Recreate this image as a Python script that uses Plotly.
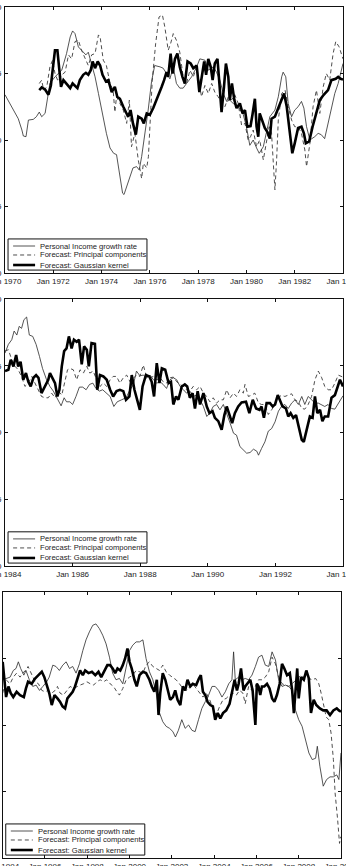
import plotly.graph_objects as go

# ---------------- data (decimal years, growth rate %) ----------------
p1_act_t = [1970.0,1970.35,1970.55,1970.7,1970.76,1970.87,1970.97,1971.17,1971.3,1971.42,1971.52,1971.66,1971.73,1971.86,1972.07,1972.35,1972.55,1972.7,1972.8,1972.9,1973.04,1973.17,1973.35,1973.45,1973.59,1973.73,1973.87,1974.0,1974.2,1974.35,1974.5,1974.62,1974.76,1974.87,1974.93,1975.04,1975.17,1975.3,1975.45,1975.56,1975.66,1975.8,1975.93,1976.07,1976.2,1976.42,1976.55,1976.69,1976.83,1976.97,1977.1,1977.24,1977.38,1977.52,1977.73,1977.94,1978.07,1978.28,1978.42,1978.63,1978.76,1978.9,1979.04,1979.18,1979.31,1979.45,1979.66,1979.87,1980.0,1980.14,1980.28,1980.42,1980.53,1980.7,1980.83,1980.97,1981.18,1981.32,1981.46,1981.52,1981.63,1981.73,1981.87,1982.0,1982.14,1982.28,1982.38,1982.49,1982.63,1982.83,1982.97,1983.1,1983.24,1983.38,1983.52,1983.66,1983.8,1984.0]
p1_act_v = [3.4,2.25,1.6,0.75,0.3,0.25,1.5,1.55,1.75,2.1,1.75,2.0,2.75,4.25,4.75,5.25,6.5,7.75,8.2,8.0,7.0,6.75,6.4,6.6,5.75,4.75,3.5,2.25,0.5,-0.6,-1.0,-1.1,-2.75,-4.0,-4.1,-3.5,-2.75,-2.1,-2.0,-2.25,-1.25,0.5,2.25,4.4,5.6,5.5,5.4,5.0,4.6,5.5,4.25,3.9,3.9,4.25,4.75,5.5,6.1,6.0,5.25,5.5,5.1,4.5,3.5,2.9,3.0,2.75,2.5,1.9,1.0,-0.4,0.0,-0.6,-1.0,-0.5,0.5,1.75,2.25,3.25,4.75,5.1,4.75,2.75,1.75,2.25,2.5,2.9,2.4,1.0,0.0,0.25,0.5,0.4,0.1,1.25,2.5,3.5,4.25,5.75]

p1_pc_t = [1971.42,1971.52,1971.6,1971.73,1971.86,1971.97,1972.07,1972.2,1972.35,1972.49,1972.63,1972.76,1972.9,1973.04,1973.17,1973.31,1973.45,1973.59,1973.73,1973.87,1973.94,1974.07,1974.2,1974.35,1974.48,1974.55,1974.62,1974.76,1974.9,1975.04,1975.15,1975.24,1975.38,1975.52,1975.66,1975.73,1975.87,1975.94,1976.0,1976.1,1976.24,1976.38,1976.52,1976.62,1976.76,1976.86,1976.97,1977.1,1977.24,1977.38,1977.52,1977.66,1977.8,1977.94,1978.07,1978.14,1978.28,1978.42,1978.56,1978.69,1978.83,1978.97,1979.11,1979.25,1979.38,1979.52,1979.66,1979.8,1979.94,1980.07,1980.17,1980.28,1980.42,1980.55,1980.7,1980.8,1980.94,1981.04,1981.1,1981.18,1981.25,1981.32,1981.46,1981.6,1981.73,1981.87,1982.0,1982.14,1982.28,1982.42,1982.49,1982.63,1982.76,1982.9,1983.04,1983.18,1983.31,1983.45,1983.59,1983.7,1983.84,1984.0]
p1_pc_v = [4.25,4.5,3.75,4.0,5.5,6.0,5.0,4.4,4.9,5.1,6.4,6.1,7.4,7.5,6.75,6.1,5.6,6.4,6.5,7.9,7.75,6.0,5.6,4.25,3.75,2.1,3.25,2.75,2.25,1.25,3.0,-0.5,0.5,-1.5,-2.9,-1.75,-2.1,-1.25,1.0,4.5,7.25,9.25,9.4,8.5,6.75,7.25,8.0,7.5,6.6,4.75,4.25,5.25,4.75,5.5,4.0,3.25,4.1,3.5,4.25,3.6,3.25,2.75,2.5,3.25,3.0,3.4,2.75,1.1,1.25,0.0,0.25,0.75,-0.5,0.0,-1.5,-0.5,1.0,0.5,-1.25,-3.75,-1.5,1.5,3.5,3.75,2.5,1.5,1.0,1.0,0.5,-0.75,-2.0,-0.25,2.5,3.75,2.0,4.0,5.0,4.5,6.5,7.4,7.0,6.1]

p1_gk_t = [1971.42,1971.52,1971.66,1971.8,1971.9,1972.0,1972.07,1972.17,1972.25,1972.32,1972.42,1972.55,1972.7,1972.8,1972.9,1973.0,1973.1,1973.24,1973.35,1973.45,1973.55,1973.63,1973.73,1973.84,1973.94,1974.04,1974.18,1974.28,1974.42,1974.55,1974.65,1974.76,1974.9,1975.0,1975.1,1975.2,1975.3,1975.42,1975.52,1975.66,1975.75,1975.87,1976.0,1976.14,1976.28,1976.38,1976.49,1976.59,1976.69,1976.76,1976.86,1976.94,1977.04,1977.14,1977.24,1977.35,1977.45,1977.56,1977.69,1977.8,1977.94,1978.05,1978.14,1978.25,1978.33,1978.42,1978.52,1978.6,1978.69,1978.8,1978.88,1978.97,1979.07,1979.15,1979.25,1979.31,1979.4,1979.5,1979.59,1979.73,1979.84,1979.94,1980.04,1980.17,1980.25,1980.35,1980.42,1980.49,1980.55,1980.66,1980.76,1980.87,1980.97,1981.04,1981.18,1981.32,1981.46,1981.56,1981.67,1981.78,1981.9,1982.0,1982.14,1982.28,1982.38,1982.46,1982.6,1982.74,1982.87,1983.04,1983.2,1983.38,1983.52,1983.7,1983.8,1983.9,1984.0]
p1_gk_v = [3.75,3.95,3.8,3.4,4.1,5.6,6.75,6.75,5.5,4.0,4.5,4.25,3.9,4.25,4.1,3.9,4.5,4.9,5.05,4.9,5.25,5.9,5.4,5.9,5.6,4.9,4.4,4.5,3.6,4.0,3.25,3.1,2.5,2.1,1.75,2.25,1.25,0.4,1.75,1.6,1.25,2.0,1.9,2.4,3.0,3.5,4.0,4.5,5.1,4.75,6.5,5.0,6.1,6.5,5.5,4.75,4.25,5.9,5.75,5.4,5.6,3.6,4.75,5.9,4.9,6.1,5.5,4.5,5.75,6.1,4.25,2.1,4.0,5.75,4.75,3.0,4.25,3.0,2.4,2.75,2.0,2.25,1.0,1.05,1.9,3.1,1.0,0.25,2.0,1.5,0.9,0.6,0.1,1.6,1.75,2.4,3.0,3.5,2.5,0.75,-1.0,-0.25,0.9,1.0,0.5,-0.25,-0.1,1.0,1.9,3.0,3.4,3.75,4.5,4.6,4.75,4.6,4.55]

p2_act_t = [1984.0,1984.1,1984.2,1984.27,1984.35,1984.42,1984.49,1984.56,1984.64,1984.72,1984.82,1984.92,1985.02,1985.11,1985.23,1985.33,1985.43,1985.53,1985.66,1985.75,1985.82,1985.92,1986.0,1986.1,1986.2,1986.3,1986.4,1986.5,1986.6,1986.69,1986.79,1986.89,1986.99,1987.11,1987.22,1987.32,1987.45,1987.58,1987.7,1987.8,1987.89,1987.99,1988.09,1988.19,1988.29,1988.39,1988.49,1988.59,1988.68,1988.78,1988.88,1988.98,1989.08,1989.18,1989.28,1989.37,1989.47,1989.57,1989.67,1989.77,1989.87,1989.97,1990.06,1990.16,1990.26,1990.36,1990.46,1990.56,1990.66,1990.76,1990.85,1990.95,1991.05,1991.15,1991.25,1991.35,1991.45,1991.5,1991.59,1991.69,1991.79,1991.89,1991.99,1992.09,1992.18,1992.28,1992.38,1992.48,1992.58,1992.68,1992.78,1992.87,1992.97,1993.07,1993.17,1993.27,1993.37,1993.46,1993.56,1993.66,1993.76,1993.86,1994.0]
p2_act_v = [5.95,6.6,6.95,7.6,7.3,7.95,7.8,8.45,8.65,7.3,7.2,6.6,5.7,4.8,3.95,3.45,3.1,2.6,2.0,2.6,2.3,2.3,2.1,2.7,3.4,3.4,3.2,3.6,3.7,3.3,3.1,3.2,2.95,2.7,1.95,2.3,2.45,2.6,3.2,3.6,4.6,4.25,4.3,4.1,4.3,3.95,3.7,3.8,3.6,3.3,3.95,4.1,3.95,3.45,3.2,2.95,3.1,2.7,2.8,2.45,1.95,1.2,1.45,1.95,2.1,1.7,2.1,1.45,0.7,-0.05,-0.2,-1.05,-1.3,-1.55,-1.5,-1.25,-1.4,-1.7,-1.2,-0.7,0.1,0.3,0.8,1.6,1.95,2.1,1.8,2.2,2.45,2.1,2.7,2.1,2.7,2.45,2.2,2.2,2.1,1.95,2.1,1.8,1.75,2.2,2.75]

p2_pc_t = [1984.0,1984.1,1984.2,1984.3,1984.39,1984.49,1984.59,1984.69,1984.79,1984.89,1984.99,1985.08,1985.18,1985.28,1985.38,1985.48,1985.58,1985.68,1985.77,1985.85,1985.92,1986.02,1986.12,1986.22,1986.32,1986.42,1986.51,1986.61,1986.71,1986.81,1986.91,1987.01,1987.11,1987.2,1987.3,1987.4,1987.5,1987.6,1987.7,1987.8,1987.89,1987.99,1988.09,1988.19,1988.29,1988.39,1988.49,1988.59,1988.68,1988.78,1988.88,1988.98,1989.08,1989.18,1989.28,1989.37,1989.47,1989.57,1989.67,1989.77,1989.87,1989.97,1990.06,1990.16,1990.26,1990.36,1990.46,1990.56,1990.66,1990.76,1990.85,1990.95,1991.05,1991.1,1991.2,1991.3,1991.39,1991.5,1991.59,1991.69,1991.79,1991.89,1991.99,1992.09,1992.18,1992.28,1992.38,1992.48,1992.58,1992.68,1992.78,1992.87,1992.97,1993.07,1993.17,1993.27,1993.37,1993.46,1993.56,1993.66,1993.76,1993.86,1994.0]
p2_pc_v = [6.1,6.2,5.45,4.95,4.7,4.2,3.45,3.7,4.2,3.7,3.2,2.7,2.6,2.6,2.95,2.6,3.1,2.8,3.8,4.7,4.8,4.7,3.95,4.7,4.45,4.95,4.45,4.6,3.95,3.45,3.7,3.45,3.95,4.2,4.2,3.7,4.1,4.3,3.8,4.1,4.3,4.2,5.05,4.2,4.1,4.2,3.95,4.1,3.8,3.7,4.1,4.15,3.8,3.6,3.45,3.2,3.1,3.45,3.2,3.45,2.95,2.7,2.3,2.6,2.2,2.45,2.45,3.2,2.6,2.95,2.7,3.2,2.95,3.6,2.7,2.8,2.95,2.2,2.1,2.1,1.35,1.7,2.1,2.6,2.8,2.7,2.8,2.9,2.45,2.3,1.8,1.75,2.1,2.7,3.95,4.6,4.1,3.45,3.2,3.2,3.7,4.3,4.15]

p2_gk_t = [1984.0,1984.1,1984.17,1984.25,1984.33,1984.39,1984.46,1984.54,1984.62,1984.69,1984.76,1984.84,1984.92,1984.99,1985.08,1985.18,1985.28,1985.33,1985.41,1985.48,1985.55,1985.61,1985.68,1985.75,1985.82,1985.89,1985.97,1986.04,1986.12,1986.19,1986.27,1986.34,1986.42,1986.48,1986.56,1986.66,1986.73,1986.81,1986.91,1987.01,1987.11,1987.2,1987.3,1987.4,1987.5,1987.58,1987.68,1987.75,1987.83,1987.91,1987.99,1988.07,1988.17,1988.27,1988.34,1988.41,1988.49,1988.57,1988.64,1988.74,1988.84,1988.91,1988.98,1989.06,1989.13,1989.23,1989.32,1989.39,1989.47,1989.55,1989.62,1989.7,1989.77,1989.87,1989.97,1990.05,1990.14,1990.21,1990.31,1990.41,1990.49,1990.56,1990.64,1990.72,1990.8,1990.9,1991.0,1991.13,1991.23,1991.33,1991.43,1991.53,1991.59,1991.66,1991.74,1991.84,1991.92,1991.99,1992.07,1992.13,1992.21,1992.31,1992.38,1992.45,1992.53,1992.61,1992.68,1992.78,1992.84,1992.92,1993.02,1993.1,1993.17,1993.24,1993.32,1993.39,1993.46,1993.56,1993.66,1993.76,1993.83,1993.91,1994.0]
p2_gk_v = [4.6,4.7,5.45,4.95,5.8,4.95,5.3,3.95,4.45,3.8,3.45,4.1,4.3,4.1,2.95,3.45,3.95,4.45,4.1,3.7,2.7,3.2,4.95,6.1,6.3,7.2,6.3,6.95,6.8,6.95,5.1,6.45,6.2,4.95,6.7,6.65,3.2,4.3,4.2,3.95,3.2,2.7,3.1,3.2,3.1,2.45,2.7,4.3,3.2,2.45,1.7,3.45,4.3,4.2,3.8,2.7,5.2,3.7,4.8,4.7,3.7,3.8,2.1,2.7,2.45,3.45,3.6,3.45,2.6,2.95,1.8,3.1,2.1,2.95,1.95,1.45,1.6,1.1,0.85,0.2,1.3,1.95,1.3,0.7,1.45,1.95,2.25,2.3,1.45,2.45,1.8,1.7,1.95,1.1,2.2,2.2,1.95,2.1,2.8,2.45,1.95,1.8,1.2,1.45,1.1,1.3,0.6,-0.55,-0.7,0.2,1.2,1.1,2.7,1.45,1.7,0.85,1.2,1.2,2.6,2.8,3.3,3.95,3.45]

p3_act_t = [1994.0,1994.16,1994.35,1994.5,1994.63,1994.74,1994.85,1995.0,1995.1,1995.26,1995.42,1995.58,1995.74,1995.9,1996.08,1996.2,1996.37,1996.52,1996.68,1996.84,1997.0,1997.16,1997.31,1997.47,1997.63,1997.79,1997.94,1998.1,1998.26,1998.41,1998.57,1998.73,1998.89,1999.05,1999.2,1999.36,1999.52,1999.68,1999.84,2000.0,2000.15,2000.31,2000.47,2000.63,2000.78,2000.94,2001.1,2001.26,2001.42,2001.57,2001.73,2001.89,2002.05,2002.17,2002.31,2002.47,2002.63,2002.79,2002.95,2003.1,2003.26,2003.42,2003.58,2003.74,2003.9,2004.05,2004.21,2004.37,2004.53,2004.69,2004.84,2004.92,2005.0,2005.16,2005.32,2005.47,2005.63,2005.79,2005.95,2006.1,2006.26,2006.42,2006.58,2006.74,2006.9,2007.05,2007.21,2007.37,2007.53,2007.69,2007.85,2008.0,2008.16,2008.32,2008.48,2008.64,2008.8,2008.88,2009.0,2009.16,2009.32,2009.48,2009.64,2009.8,2009.9,2010.0]
p3_act_v = [3.4,3.5,3.6,4.1,4.25,4.75,4.25,3.75,4.1,3.4,2.9,3.0,2.6,2.9,3.25,3.6,4.5,4.4,4.1,4.5,4.75,4.25,4.4,3.9,4.6,5.6,6.4,7.0,7.5,7.6,7.25,6.75,6.1,5.1,3.9,3.4,3.5,3.1,4.25,5.6,6.0,6.25,6.25,6.4,5.0,4.0,3.4,2.4,0.9,0.25,-0.1,-0.25,-0.5,-0.9,-0.4,0.4,-0.25,0.0,-0.4,-0.5,0.4,1.25,1.75,2.25,2.9,2.9,2.6,2.1,2.5,3.1,3.4,5.5,3.4,3.6,3.4,3.5,3.4,3.75,4.4,5.1,5.25,4.5,4.4,5.5,4.9,3.4,2.9,3.0,2.9,2.6,1.1,0.4,-0.1,-1.1,-2.1,-2.6,-2.5,-1.6,-3.1,-4.6,-4.1,-3.9,-3.9,-3.75,-4.1,-2.1]

p3_pc_t = [1994.0,1994.16,1994.35,1994.5,1994.66,1994.82,1995.0,1995.1,1995.2,1995.37,1995.53,1995.69,1995.85,1996.0,1996.16,1996.32,1996.48,1996.59,1996.71,1996.87,1997.03,1997.19,1997.35,1997.5,1997.66,1997.82,1997.98,1998.14,1998.3,1998.45,1998.61,1998.77,1998.92,1999.08,1999.24,1999.4,1999.52,1999.68,1999.84,2000.0,2000.15,2000.31,2000.47,2000.63,2000.78,2000.94,2001.1,2001.26,2001.42,2001.57,2001.73,2001.89,2002.05,2002.2,2002.36,2002.52,2002.68,2002.84,2002.99,2003.15,2003.31,2003.47,2003.63,2003.79,2003.94,2004.1,2004.26,2004.42,2004.57,2004.73,2004.89,2005.05,2005.2,2005.36,2005.47,2005.63,2005.79,2005.95,2006.1,2006.26,2006.42,2006.58,2006.74,2006.9,2007.05,2007.21,2007.37,2007.53,2007.69,2007.85,2008.0,2008.16,2008.32,2008.48,2008.64,2008.8,2008.95,2009.06,2009.18,2009.3,2009.42,2009.53,2009.64,2009.72,2009.84,2009.93,2009.99]
p3_pc_v = [2.4,3.4,3.1,3.6,3.9,3.6,4.0,4.1,4.4,3.75,3.25,3.1,2.6,2.5,2.6,2.4,2.6,2.9,2.4,2.25,2.6,2.9,2.75,2.9,3.0,3.1,3.25,3.1,3.0,3.25,3.4,3.25,3.4,3.1,2.9,2.5,2.25,2.75,3.4,3.6,3.75,4.1,4.0,3.9,4.5,4.75,4.4,4.25,4.1,4.5,4.0,3.75,3.6,3.4,3.1,2.75,2.6,2.9,3.1,2.75,2.4,2.1,2.4,1.9,1.25,0.75,1.4,1.9,2.0,2.25,2.4,2.25,2.6,2.4,1.6,2.9,2.6,2.9,3.4,3.4,3.6,4.0,5.1,4.6,3.6,3.1,3.0,2.9,3.1,3.4,3.6,3.75,3.4,3.5,3.4,3.5,3.1,2.4,1.4,0.6,0.4,-0.6,-2.6,-5.1,-7.1,-8.9,-8.4]

p3_gk_t = [1994.0,1994.06,1994.16,1994.27,1994.38,1994.5,1994.66,1994.82,1995.0,1995.1,1995.2,1995.37,1995.53,1995.69,1995.85,1995.97,1996.08,1996.2,1996.32,1996.45,1996.59,1996.71,1996.83,1996.95,1997.06,1997.19,1997.31,1997.42,1997.54,1997.66,1997.79,1997.9,1998.06,1998.22,1998.38,1998.53,1998.66,1998.8,1998.95,1999.08,1999.2,1999.32,1999.43,1999.56,1999.68,1999.79,1999.9,2000.0,2000.1,2000.23,2000.34,2000.47,2000.63,2000.78,2000.94,2001.05,2001.17,2001.29,2001.37,2001.45,2001.57,2001.69,2001.8,2001.92,2002.05,2002.16,2002.27,2002.4,2002.52,2002.63,2002.74,2002.87,2002.99,2003.15,2003.28,2003.37,2003.47,2003.58,2003.69,2003.82,2003.94,2004.05,2004.17,2004.29,2004.42,2004.57,2004.73,2004.86,2004.97,2005.08,2005.16,2005.27,2005.39,2005.47,2005.58,2005.71,2005.82,2005.95,2006.02,2006.1,2006.18,2006.26,2006.37,2006.5,2006.62,2006.74,2006.85,2006.97,2007.1,2007.21,2007.32,2007.45,2007.58,2007.69,2007.77,2007.85,2007.93,2008.0,2008.11,2008.24,2008.36,2008.48,2008.58,2008.71,2008.83,2009.0,2009.16,2009.32,2009.48,2009.64,2009.8,2009.9,2010.0]
p3_gk_v = [4.75,3.6,2.1,2.9,2.4,2.1,2.5,2.25,2.1,2.75,3.25,3.1,3.5,3.75,4.0,3.6,3.1,2.4,1.5,2.25,2.0,1.75,1.4,1.25,2.0,2.25,2.5,2.9,3.6,4.1,3.75,4.1,3.9,4.0,3.75,4.0,3.6,4.1,4.5,4.5,4.25,3.9,4.25,4.1,4.5,5.0,5.75,4.75,4.25,3.4,2.9,3.75,4.0,3.9,3.4,2.9,2.5,3.4,0.75,2.4,3.9,3.4,2.6,1.9,2.1,2.6,1.9,1.5,2.9,2.6,3.4,2.9,3.1,3.0,3.5,3.75,2.5,2.25,1.75,1.5,1.4,0.4,0.9,0.5,0.9,1.1,1.6,2.6,3.4,2.6,3.1,4.25,2.6,2.9,3.1,3.4,2.6,0.0,3.1,2.9,2.25,2.9,2.9,3.1,2.75,2.0,1.75,2.25,3.1,4.6,4.25,3.75,3.9,2.6,0.9,2.6,4.25,2.0,3.6,3.4,4.1,3.5,0.9,1.9,1.5,1.25,1.1,1.1,0.75,1.1,1.25,1.1,1.0]

panel_x_ranges = [[1970, 1984], [1984, 1994], [1994, 2010]]
x_tick_years = [list(range(1970, 1985, 2)), list(range(1984, 1995, 2)), list(range(1994, 2011, 2))]
y_tick_vals = [-10, -5, 0, 5, 10]
y_tick_text = ["-10", "-5", "0", "5", "10"]
legend_names = ["Personal Income growth rate", "Forecast: Principal components", "Forecast: Gaussian kernel"]

panels = [
    (p1_act_t, p1_act_v, p1_pc_t, p1_pc_v, p1_gk_t, p1_gk_v),
    (p2_act_t, p2_act_v, p2_pc_t, p2_pc_v, p2_gk_t, p2_gk_v),
    (p3_act_t, p3_act_v, p3_pc_t, p3_pc_v, p3_gk_t, p3_gk_v),
]

# ---------------- styling / layout ----------------
W, H = 346, 866
ML, MR, MT, MB = 2, 3, 7, 8
PW, PH = W - ML - MR, H - MT - MB
panel_px_x = [(5, 343), (5, 343), (2.7, 341)]
panel_px_y = [(7, 273), (299, 566), (592, 858)]
styles = [
    dict(color="#2a2a2a", width=0.8),
    dict(color="#3a3a3a", width=0.9, dash="4px,3px"),
    dict(color="#000000", width=2.6),
]
FONT = "Liberation Sans, Arial, sans-serif"

fig = go.Figure()
shapes, annotations = [], []
for i, pdata in enumerate(panels):
    n = "" if i == 0 else str(i + 1)
    xa, ya = "x" + n, "y" + n
    for k in range(3):
        fig.add_trace(go.Scatter(x=pdata[2 * k], y=pdata[2 * k + 1], mode="lines",
                                 line=styles[k], xaxis=xa, yaxis=ya, showlegend=False,
                                 name=legend_names[k]))
    x0, x1 = panel_px_x[i]
    y0, y1 = panel_px_y[i]
    xdom = [(x0 - ML) / PW, (x1 - ML) / PW]
    ydom = [1 - (y1 - MT) / PH, 1 - (y0 - MT) / PH]
    axcommon = dict(showline=True, linecolor="#111", linewidth=1, mirror="ticks",
                    ticks="inside", ticklen=3, tickcolor="#111", showgrid=False,
                    zeroline=False, automargin=False, ticklabeloverflow="allow",
                    tickfont=dict(family=FONT, size=8, color="#222"))
    fig.update_layout(**{
        "xaxis" + n: dict(domain=xdom, range=panel_x_ranges[i], anchor=ya,
                          tickvals=x_tick_years[i],
                          ticktext=["Jan %d" % y for y in x_tick_years[i]], **axcommon),
        "yaxis" + n: dict(domain=ydom, range=[-10, 10], anchor=xa,
                          tickvals=y_tick_vals, ticktext=y_tick_text,
                          ticklabelstandoff=1, **axcommon),
    })
    # manual legend box
    dx, dy = xa + " domain", ya + " domain"
    shapes.append(dict(type="rect", xref=dx, yref=dy, x0=0.009, x1=0.42, y0=0.011, y1=0.128,
                       line=dict(color="#111", width=1), fillcolor="white", layer="above"))
    rows = [0.1015, 0.0677, 0.030]
    for k in range(3):
        ls = dict(styles[k])
        shapes.append(dict(type="line", xref=dx, yref=dy, x0=0.024, x1=0.089, y0=rows[k], y1=rows[k],
                           line=ls, layer="above"))
        annotations.append(dict(xref=dx, yref=dy, x=0.097, y=rows[k], text=legend_names[k],
                                showarrow=False, xanchor="left", yanchor="middle",
                                font=dict(family=FONT, size=7.6, color="#222")))

fig.update_layout(width=W, height=H, margin=dict(l=ML, r=MR, t=MT, b=MB),
                  paper_bgcolor="white", plot_bgcolor="white", template="none",
                  shapes=shapes, annotations=annotations)
fig.write_html("out.html")
